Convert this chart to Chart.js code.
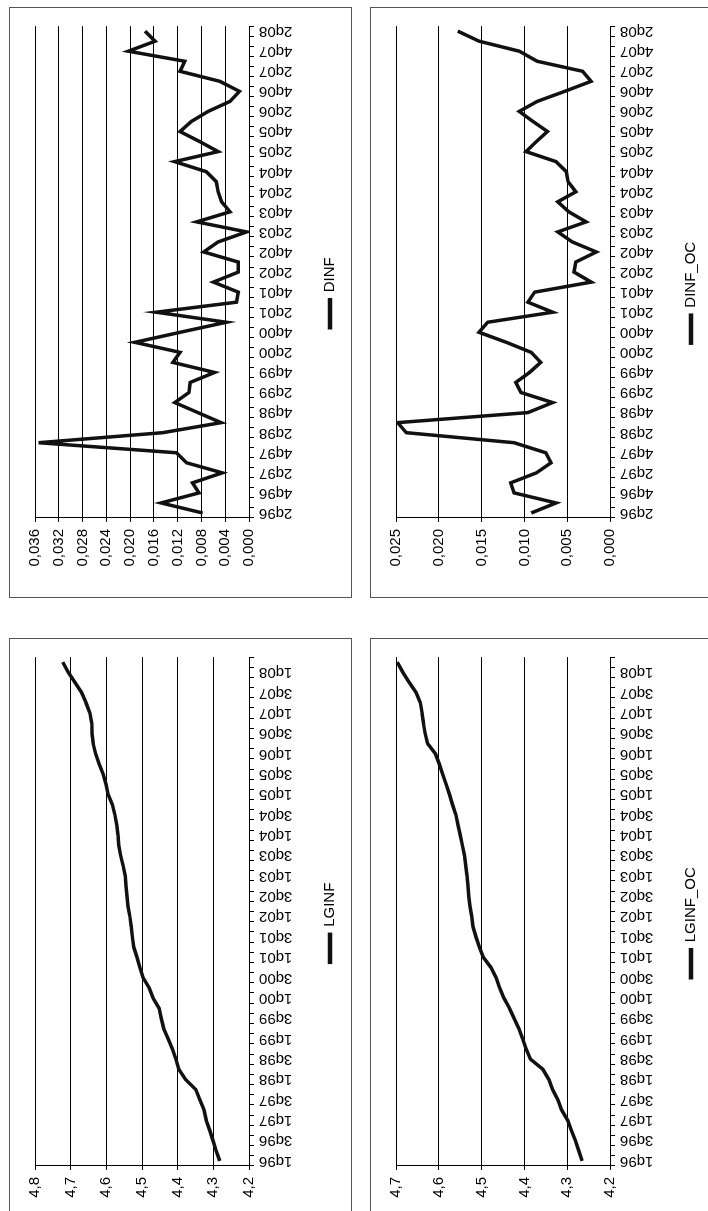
<!DOCTYPE html>
<html>
<head>
<meta charset="utf-8">
<style>
  body { margin: 0; width: 708px; height: 1211px; overflow: hidden; background: #fff; }
  /* the whole sheet is turned a quarter turn to the left */
  #page { position: absolute; left: 0; top: 0; width: 1211px; height: 708px;
          transform-origin: 0 0; transform: translate(0, 1211px) rotate(-90deg); }
  .box { position: absolute; border: 1px solid #555; box-sizing: border-box; background: #fff; }
  .box canvas { position: absolute; left: 0; top: 0; }
</style>
</head>
<body>
<div id="page">
  <div class="box" style="left:-1px; top:9px; width:574px; height:343px"><canvas id="lginf" width="572" height="341"></canvas></div>
  <div class="box" style="left:613px; top:9px; width:591px; height:343px"><canvas id="dinf" width="589" height="341"></canvas></div>
  <div class="box" style="left:-1px; top:370px; width:574px; height:343px"><canvas id="lginfOc" width="572" height="341"></canvas></div>
  <div class="box" style="left:613px; top:370px; width:591px; height:343px"><canvas id="dinfOc" width="589" height="341"></canvas></div>
</div>

<script src="https://cdn.jsdelivr.net/npm/chart.js"></script>
<script>
  const lgLabels = [
    "1q96", "2q96", "3q96", "4q96", "1q97", "2q97", "3q97", "4q97",
    "1q98", "2q98", "3q98", "4q98", "1q99", "2q99", "3q99", "4q99",
    "1q00", "2q00", "3q00", "4q00", "1q01", "2q01", "3q01", "4q01",
    "1q02", "2q02", "3q02", "4q02", "1q03", "2q03", "3q03", "4q03",
    "1q04", "2q04", "3q04", "4q04", "1q05", "2q05", "3q05", "4q05",
    "1q06", "2q06", "3q06", "4q06", "1q07", "2q07", "3q07", "4q07",
    "1q08", "2q08",
  ];
  const dLabels = lgLabels.slice(1);

  const lginf = [
    4.282, 4.292, 4.301, 4.31, 4.32, 4.326, 4.338, 4.349, 4.378, 4.397,
    4.405, 4.415, 4.427, 4.439, 4.446, 4.452, 4.469, 4.48, 4.497, 4.506,
    4.514, 4.523, 4.527, 4.53, 4.534, 4.539, 4.542, 4.545, 4.547, 4.553,
    4.56, 4.565, 4.567, 4.571, 4.576, 4.583, 4.595, 4.601, 4.609, 4.62,
    4.63, 4.637, 4.64, 4.641, 4.646, 4.657, 4.669, 4.688, 4.707, 4.722,
  ];
  const lginfOc = [
    4.265, 4.273, 4.281, 4.29, 4.299, 4.313, 4.322, 4.334, 4.343, 4.357,
    4.386, 4.396, 4.404, 4.413, 4.424, 4.435, 4.448, 4.458, 4.466, 4.478,
    4.496, 4.505, 4.513, 4.52, 4.523, 4.527, 4.53, 4.532, 4.534, 4.537,
    4.54, 4.545, 4.55, 4.555, 4.56, 4.568, 4.575, 4.583, 4.591, 4.599,
    4.608, 4.626, 4.632, 4.636, 4.639, 4.643, 4.653, 4.669, 4.684, 4.697,
  ];
  const dinf = [
    0.0078, 0.0148, 0.0084, 0.0095, 0.0045, 0.0105, 0.0122, 0.0354, 0.0145, 0.0047,
    0.0086, 0.0125, 0.0101, 0.0099, 0.0058, 0.0128, 0.0116, 0.0192, 0.0116, 0.0038,
    0.0156, 0.0021, 0.0018, 0.006, 0.0018, 0.0018, 0.0076, 0.0052, 0.0004, 0.0088,
    0.0032, 0.0046, 0.0052, 0.0055, 0.0072, 0.0125, 0.0052, 0.0083, 0.0116, 0.0097,
    0.0069, 0.0032, 0.0016, 0.0049, 0.0116, 0.0108, 0.0203, 0.0158, 0.0175,
  ];
  const dinfOc = [
    0.0092, 0.0063, 0.0112, 0.0116, 0.0086, 0.0069, 0.0075, 0.0112, 0.0238, 0.0248,
    0.0096, 0.0067, 0.0104, 0.011, 0.0094, 0.0081, 0.0092, 0.0121, 0.0153, 0.0143,
    0.0067, 0.0096, 0.0088, 0.0022, 0.0042, 0.004, 0.0016, 0.0044, 0.0061, 0.0028,
    0.0048, 0.0061, 0.004, 0.0049, 0.0051, 0.0063, 0.0098, 0.0086, 0.0073, 0.009,
    0.0106, 0.0085, 0.0053, 0.0022, 0.0032, 0.0085, 0.0106, 0.0153, 0.0178,
  ];

  Chart.defaults.font.family = "'Liberation Sans', Arial, sans-serif";
  Chart.defaults.font.size = 15;
  Chart.defaults.color = "#000";

  // legend is centred on the whole frame, not on the plot: nudge it sideways
  const legendShift = {
    id: "legendShift",
    afterLayout(chart, args, opts) {
      chart.legend.left += opts.dx;
      chart.legend.right += opts.dx;
    },
  };

  function makeChart(id, labels, values, name, min, max, step, decimals, axisWidth, dx) {
    new Chart(document.getElementById(id), {
      type: "line",
      data: {
        labels: labels,
        datasets: [
          {
            label: name,
            data: values,
            borderColor: "#111",
            backgroundColor: "#111",
            borderWidth: 3.5,
            pointRadius: 0,
            tension: 0,
          },
        ],
      },
      options: {
        responsive: false,
        animation: false,
        layout: { padding: { left: 0, right: 13, top: 25, bottom: 3.5 } },
        plugins: {
          legend: {
            position: "bottom",
            labels: { boxWidth: 28, boxHeight: 1, padding: 10 },
          },
          tooltip: { enabled: false },
          legendShift: { dx: dx },
        },
        scales: {
          x: {
            offset: true,
            grid: { offset: true, drawOnChartArea: false, tickLength: 5, color: "#000" },
            border: { color: "#000" },
            ticks: {
              autoSkip: false,
              minRotation: 90,
              maxRotation: 90,
              padding: 5,
              callback: function (v, i) {
                return i % 2 === 0 ? this.getLabelForValue(v) : "";
              },
            },
            afterFit: function (s) { s.height = 63.5; },
          },
          y: {
            min: min,
            max: max,
            grid: { color: "#000", tickLength: 4 },
            border: { color: "#000" },
            ticks: {
              stepSize: step,
              padding: 7,
              callback: (v) => v.toFixed(decimals).replace(".", ","),
            },
            afterFit: function (s) { s.width = axisWidth; },
          },
        },
      },
      plugins: [legendShift],
    });
  }

  makeChart("lginf", lgLabels, lginf, "LGINF", 4.2, 4.8, 0.1, 1, 45, 9);
  makeChart("dinf", dLabels, dinf, "DINF", 0, 0.036, 0.004, 3, 79, 16.5);
  makeChart("lginfOc", lgLabels, lginfOc, "LGINF_OC", 4.2, 4.7, 0.1, 1, 45, 9);
  makeChart("dinfOc", dLabels, dinfOc, "DINF_OC", 0, 0.025, 0.005, 3, 79, 16.5);
</script>
</body>
</html>
